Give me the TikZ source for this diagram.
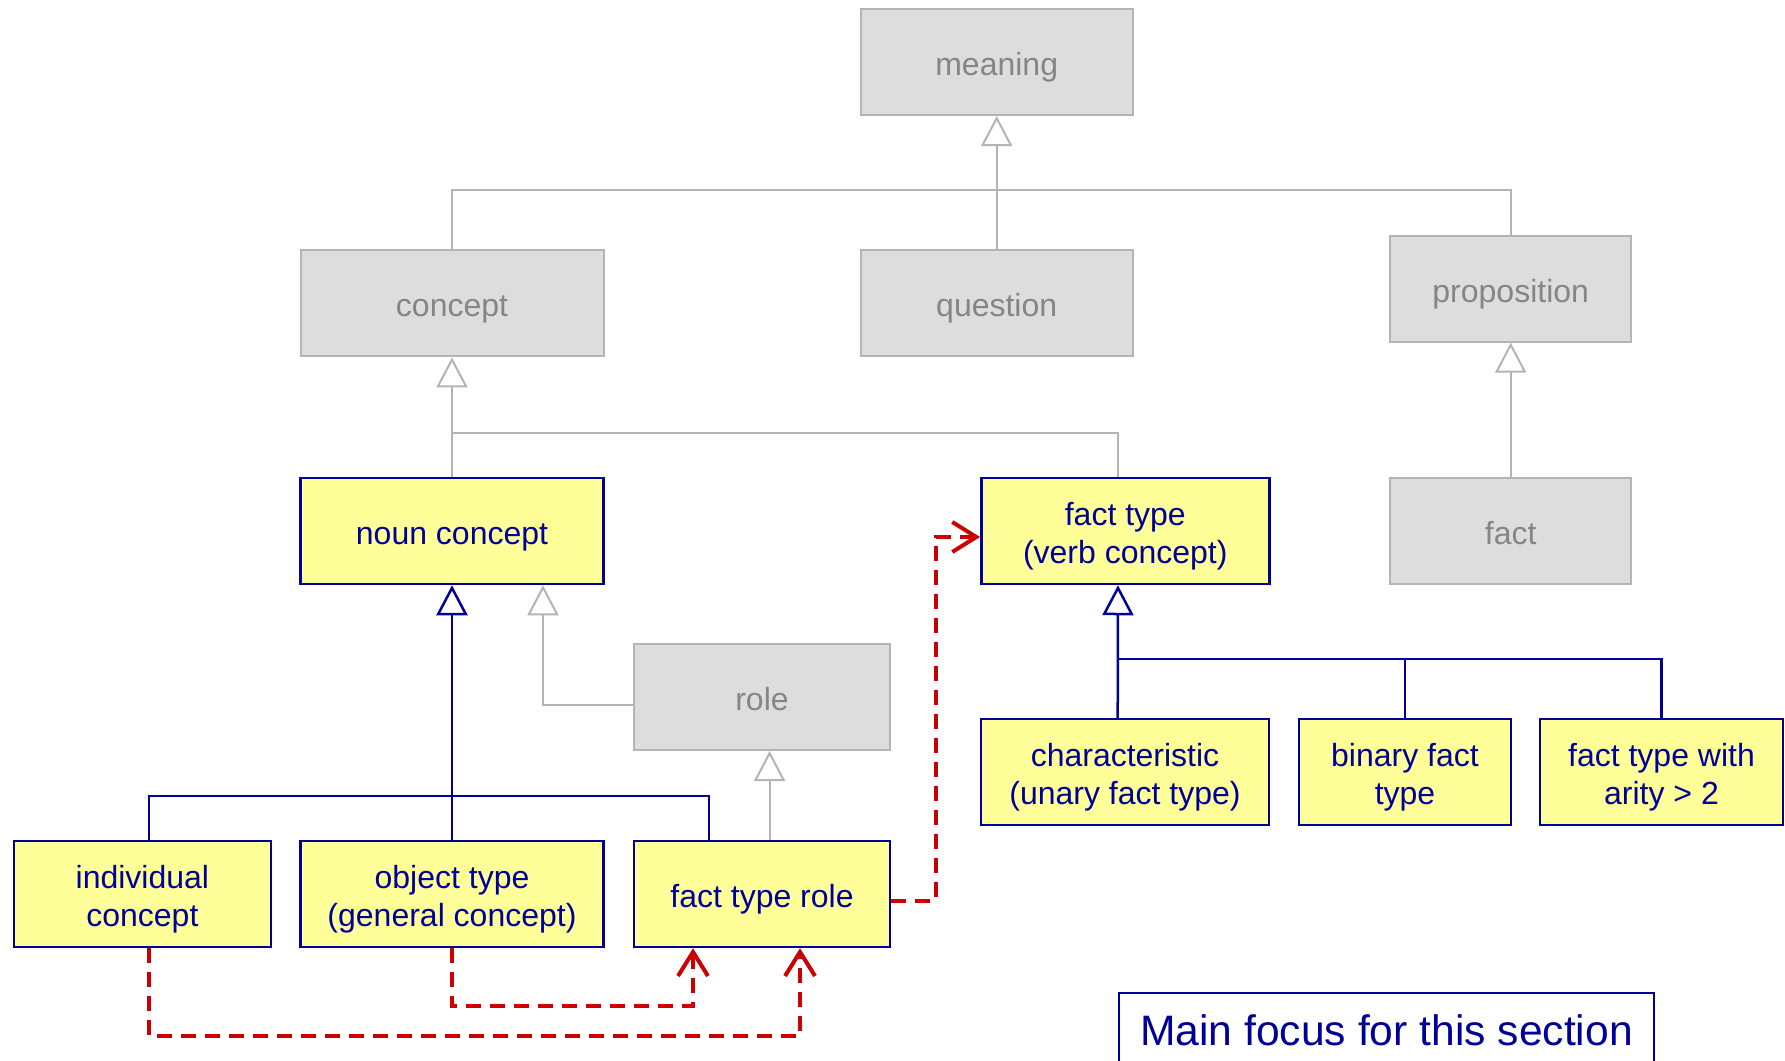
\documentclass[tikz,border=0pt]{standalone}
\usepackage{fontspec}
\setmainfont{Liberation Sans}
\usetikzlibrary{arrows.meta}
\definecolor{navy}{HTML}{000099}
\definecolor{paleyellow}{HTML}{FFFF99}
\definecolor{boxgrey}{HTML}{DDDDDD}
\definecolor{linegrey}{HTML}{B4B4B4}
\definecolor{textgrey}{HTML}{858585}
\definecolor{linkred}{HTML}{CC0000}
% box label: centred lines, set slightly below the box centre
\newcommand\boxlbl[1]{\raisebox{-5.7pt}[\height][\depth]{\begin{tabular}{@{}c@{}}#1\end{tabular}}}
\tikzset{
  box/.style={rectangle, minimum height=106pt, inner sep=0pt,
    font=\fontsize{32}{38.5}\selectfont},
  greybox/.style={box, fill=boxgrey, draw=linegrey, line width=2pt, text=textgrey},
  focusbox/.style={box, fill=paleyellow, draw=navy, line width=2.5pt, text=navy},
  gen/.style={-{Triangle[open, length=30pt, width=31pt]}},
  greyline/.style={draw=linegrey, line width=2pt},
  blueline/.style={draw=navy, line width=2.5pt},
  reflink/.style={draw=linkred, line width=4pt, dash pattern=on 15pt off 9pt,
    -{Straight Barb[length=24pt, width=30pt, line width=4pt]}},
}
\begin{document}
\begin{tikzpicture}[x=1pt, y=-1pt]
\useasboundingbox (0,0) rectangle (1785,1060);
\fill[white] (0,0) rectangle (1785,1060);

% upper, greyed-out part of the hierarchy
\node[greybox, minimum width=272pt] (meaning)     at (996.7,62)    {\boxlbl{meaning}};
\node[greybox, minimum width=303pt] (concept)     at (452,303.4)   {\boxlbl{concept}};
\node[greybox, minimum width=272pt] (question)    at (996.7,303.4) {\boxlbl{question}};
\node[greybox, minimum width=241pt] (proposition) at (1510.7,288.6){\boxlbl{proposition}};
\node[greybox, minimum width=241pt] (fact)        at (1510.7,531)  {\boxlbl{fact}};
\node[greybox, minimum width=256pt] (role)        at (762,697)     {\boxlbl{role}};

% highlighted concepts
\node[focusbox, minimum width=303pt] (noun)     at (452,531)    {\boxlbl{noun concept}};
\node[focusbox, minimum width=288pt] (facttype) at (1125.3,531) {\boxlbl{fact type\\(verb concept)}};
\node[focusbox, minimum width=257pt] (indiv)    at (142.4,894)  {\boxlbl{individual\\concept}};
\node[focusbox, minimum width=303pt] (objtype)  at (452,894)    {\boxlbl{object type\\(general concept)}};
\node[focusbox, minimum width=256pt] (ftrole)   at (762,894)    {\boxlbl{fact type role}};
\node[focusbox, minimum width=288pt] (charac)   at (1125,772)   {\boxlbl{characteristic\\(unary fact type)}};
\node[focusbox, minimum width=212pt] (binary)   at (1405,772)   {\boxlbl{binary fact\\type}};
\node[focusbox, minimum width=243pt] (arity)    at (1661.5,772) {\boxlbl{fact type with\\arity > 2}};

% legend
\node[rectangle, draw=navy, fill=white, line width=2.5pt, minimum width=535pt,
  minimum height=90pt, inner sep=0pt, text=navy, font=\fontsize{42.6}{50}\selectfont,
  anchor=north] (legend) at (1386.5,991.5) {\raisebox{7.8pt}[\height][\depth]{Main focus for this section}};

% generalisations among the grey concepts
\coordinate (mbar) at (996.7,190);
\draw[greyline] (concept.north) |- (mbar) -| (proposition.north);
\draw[greyline, gen] (question.north) -- (meaning.south);
\coordinate (cbar) at (452,432.6);
\draw[greyline, gen] (noun.north) -- (concept.south);
\draw[greyline] (cbar) -| ([xshift=-7.3pt]facttype.north);
\draw[greyline, gen] (fact.north) -- (proposition.south);
\draw[greyline, gen] ([yshift=-7.7pt]role.west) -| ([xshift=91pt]noun.south);
\draw[greyline, gen] ([xshift=7.6pt]ftrole.north) -- ([xshift=7.6pt]role.south);

% generalisations of noun concept
\coordinate (nbar) at (452,796);
\draw[blueline] ([xshift=6.6pt]indiv.north) |- (nbar) -| ([xshift=-53pt]ftrole.north);
\draw[blueline, gen] (objtype.north) -- (noun.south);

% generalisations of fact type
\coordinate (fbar) at (1117.7,659);
\draw[blueline, gen] ([xshift=-7.3pt]charac.north) -- ([xshift=-7.3pt]facttype.south);
\draw[blueline] (fbar) -| (binary.north);
\draw[blueline] (fbar) -| (arity.north);

% dependencies of fact type role
\coordinate (rfact) at (935.8,900.5);
\draw[reflink] ([yshift=-6.5pt]ftrole.east) -- (rfact) |- ([yshift=-6pt]facttype.west);
\coordinate (robj) at (693,1006);
\draw[reflink] (objtype.south) |- (robj) -- (robj |- ftrole.south);
\coordinate (rind) at (800,1036);
\draw[reflink] ([xshift=6.6pt]indiv.south) |- (rind) -- (rind |- ftrole.south);
\end{tikzpicture}
\end{document}
